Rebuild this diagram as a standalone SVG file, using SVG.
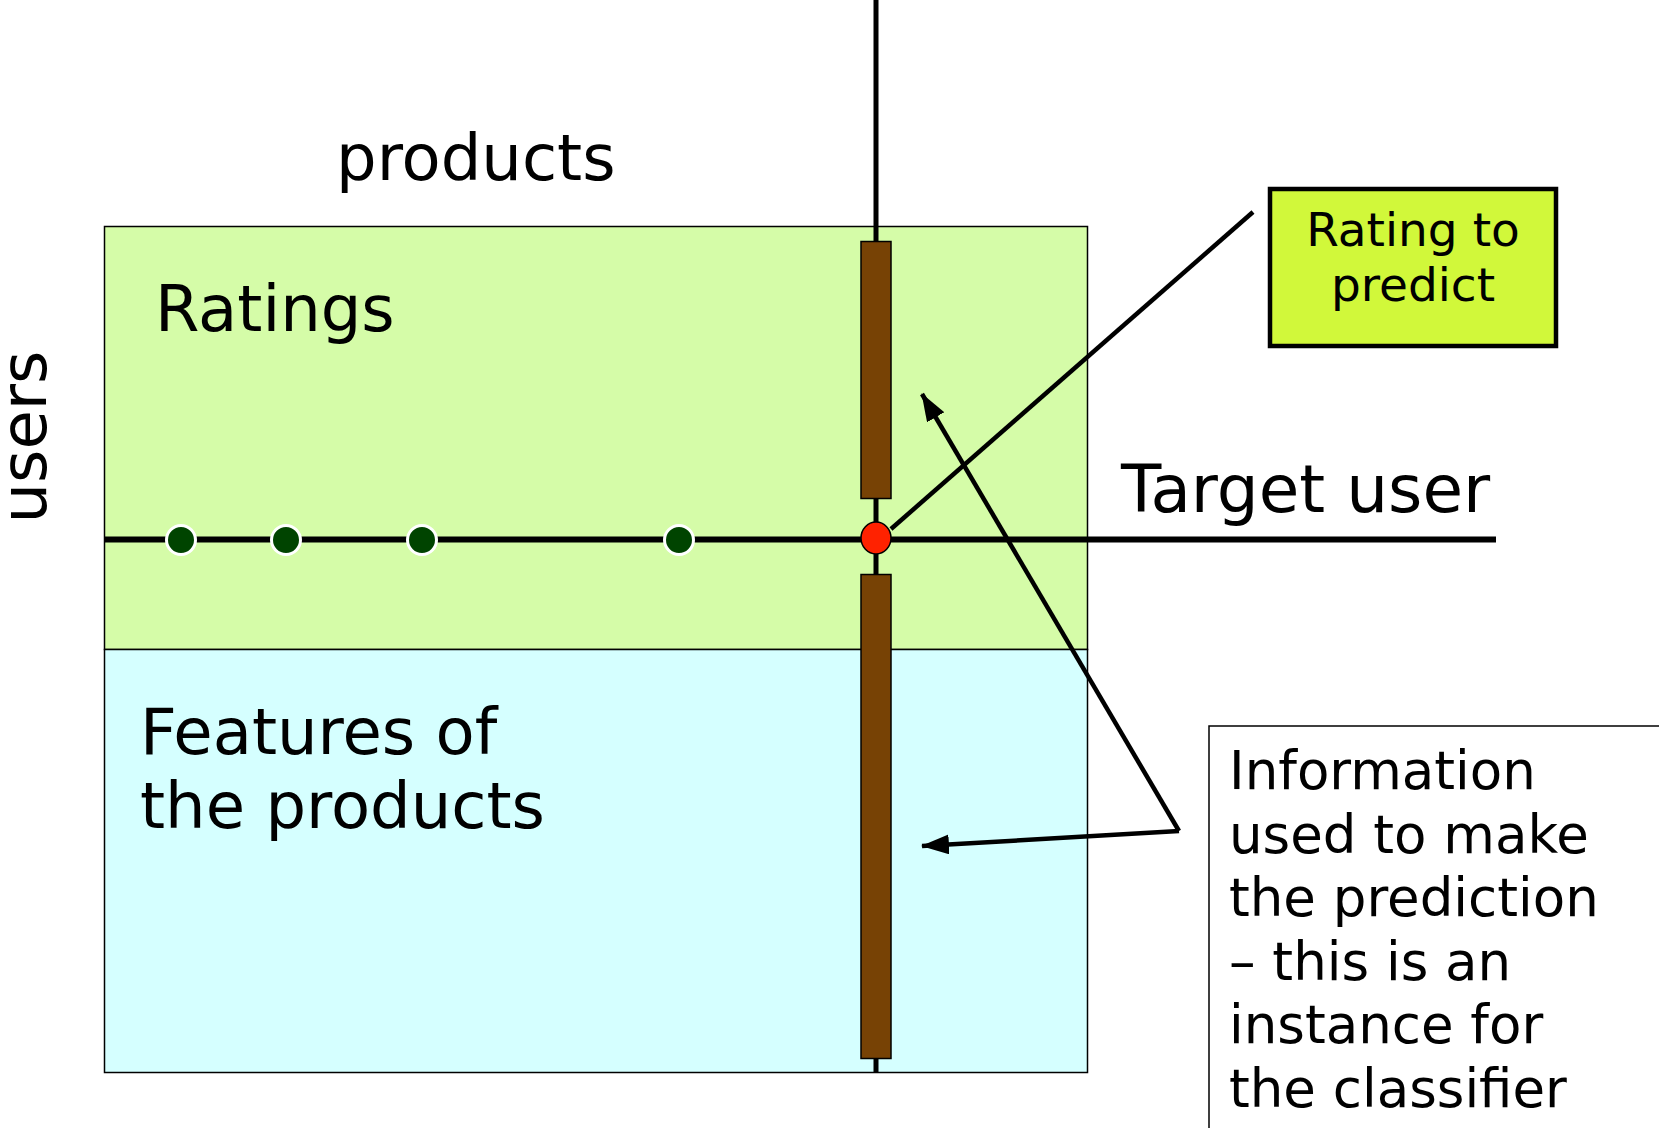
<svg xmlns="http://www.w3.org/2000/svg" width="1659" height="1128" viewBox="0 0 1659 1128">
<style>
text{font-family:"DejaVu Sans",Verdana,sans-serif;fill:#000}
.big{font-size:64px}
.info{font-size:53px}
.rt{font-size:47px}
.bar{fill:#774205;stroke:#000;stroke-width:1.5}
.dot{fill:#004400;stroke:#fff;stroke-width:3}
</style>
<defs>
<marker id="ah" markerUnits="userSpaceOnUse" markerWidth="32" markerHeight="22" refX="27" refY="10" orient="auto">
<path d="M0,0 L28,10 L0,20 Z" fill="#000"/>
</marker>
</defs>
<g id="ratings-region">
<rect x="104.5" y="226.5" width="983" height="423" fill="#d5fca8" stroke="#000" stroke-width="1.5"/>
</g>
<g id="features-region">
<rect x="104.5" y="649.5" width="983" height="423" fill="#d5ffff" stroke="#000" stroke-width="1.5"/>
</g>
<g id="connectors">
<line x1="876" y1="0" x2="876" y2="1073" stroke="#000" stroke-width="5"/>
<line x1="104" y1="539.5" x2="1496" y2="539.5" stroke="#000" stroke-width="6"/>
</g>
<g id="product-column">
<rect class="bar" x="861" y="241.5" width="30" height="257"/>
<rect class="bar" x="861" y="574.5" width="30" height="484"/>
</g>
<g id="rated-items">
<circle class="dot" cx="181" cy="540" r="14.5"/>
<circle class="dot" cx="286" cy="540" r="14.5"/>
<circle class="dot" cx="422" cy="540" r="14.5"/>
<circle class="dot" cx="679" cy="540" r="14.5"/>
</g>
<g id="target-rating">
<ellipse cx="876" cy="538" rx="15" ry="16" fill="#ff2200" stroke="#000" stroke-width="1.5"/>
</g>
<g id="pointers">
<line x1="891" y1="529" x2="1253" y2="212" stroke="#000" stroke-width="4.5"/>
<line x1="1179" y1="831" x2="922" y2="394" stroke="#000" stroke-width="4.5" marker-end="url(#ah)"/>
<line x1="1179" y1="831" x2="922" y2="846" stroke="#000" stroke-width="4.5" marker-end="url(#ah)"/>
</g>
<g id="rating-to-predict">
<rect x="1270" y="189" width="286" height="157" fill="#d1f83a" stroke="#000" stroke-width="4.5"/>
<text class="rt" x="1413" y="246" text-anchor="middle">Rating to</text>
<text class="rt" x="1413" y="301" text-anchor="middle">predict</text>
</g>
<g id="info-box">
<rect x="1209" y="726" width="480" height="440" fill="#fff" stroke="#000" stroke-width="1.5"/>
<text class="info" x="1229" y="789">Information</text>
<text class="info" x="1229" y="852.5">used to make</text>
<text class="info" x="1229" y="916">the prediction</text>
<text class="info" x="1229" y="979.5">– this is an</text>
<text class="info" x="1229" y="1043">instance for</text>
<text class="info" x="1229" y="1106.5">the classifier</text>
</g>
<g id="labels">
<text class="big" x="336" y="180">products</text>
<text class="big" x="155" y="331">Ratings</text>
<text class="big" x="1121" y="512" style="font-size:66px">Target user</text>
<text class="big" x="140" y="754">Features of</text>
<text class="big" x="140" y="828">the products</text>
<text class="big" transform="translate(46,437) rotate(-90)" text-anchor="middle">users</text>
</g>
</svg>
